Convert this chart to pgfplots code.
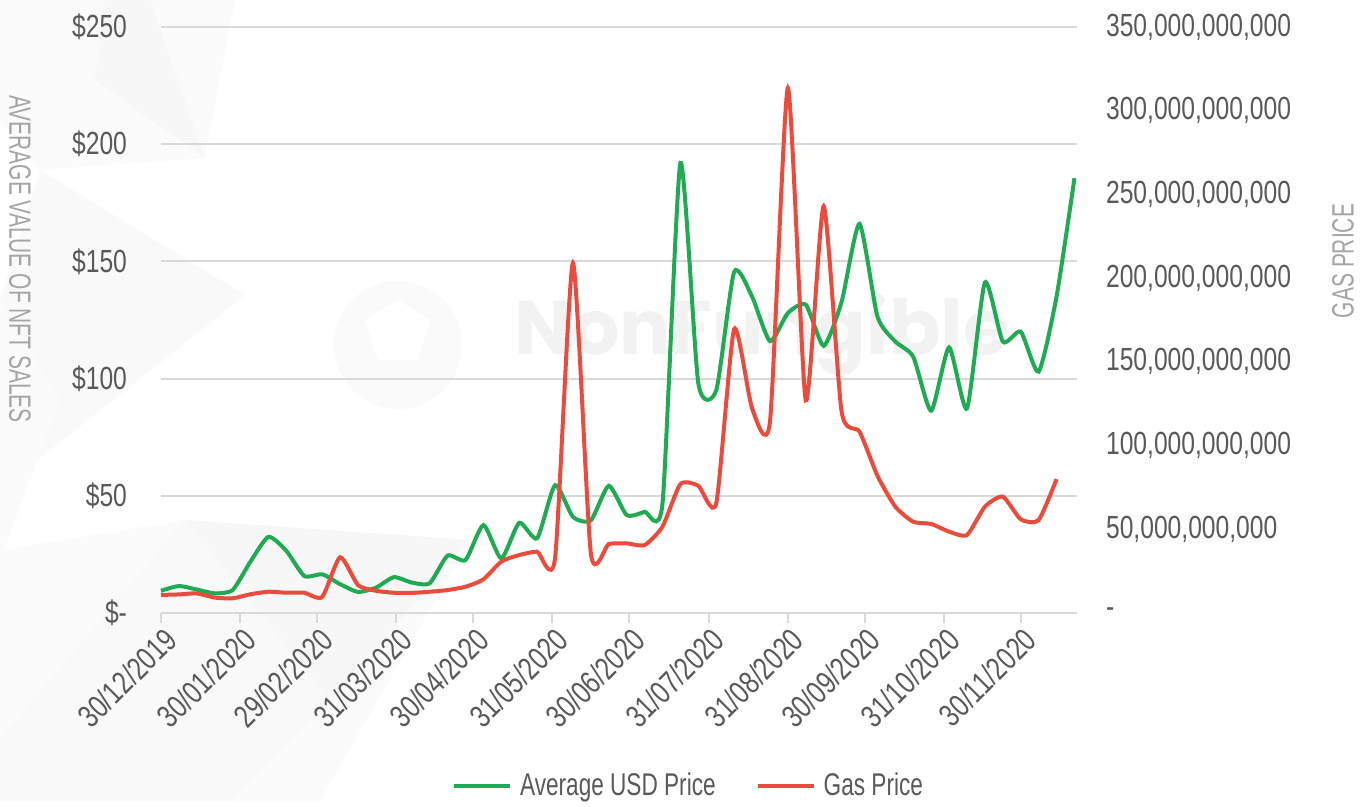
\documentclass[border=0pt]{standalone}
\usepackage{fontspec}
\setmainfont{Liberation Sans}[FakeStretch=0.77]
\newfontfamily\titlefont{Liberation Sans}[FakeStretch=0.68]
\newfontfamily\legendfont{Liberation Sans}[FakeStretch=0.72]
\newfontfamily\wmfont{Poppins}
\usepackage{pgfplots}
\usepackage{pgfplotstable}
\pgfplotsset{compat=1.18}
\definecolor{usdgreen}{RGB}{31,170,83}
\definecolor{gasred}{RGB}{233,76,60}
\definecolor{tickgray}{RGB}{89,89,89}
\definecolor{titlegray}{RGB}{165,165,165}
\definecolor{gridgray}{RGB}{217,217,217}

\pgfplotstableread{
day usd
0 9.5
7 11.5
14 10
21 8.4
28 9.8
35 22
42 32.5
49 26.5
56 15.8
63 16.5
70 12.3
77 9
84 10.8
91 15.3
98 13
105 12.7
112 24.5
119 22.6
126 37.5
133 23.3
140 38.5
147 31.9
154 54.5
161 41
168 39.5
175 54.3
182 41.8
189 43.2
196 46.8
203 192
210 98
217 95
224 145.5
231 135
238 116
245 128
252 131.5
259 114
266 132.8
273 166
280 126.5
287 115.8
294 109.3
301 86.3
308 113.3
315 87.3
322 141
329 115.8
336 120
343 103
350 135
357 185.5
}\usdtable

\pgfplotstableread{
day gas
0 10.8
7 11.1
14 11.7
21 9.2
28 8.8
35 11.2
42 12.7
49 12.1
56 12.1
63 9.6
70 33.3
77 16.7
84 13.3
91 12.1
98 12
105 12.7
112 13.7
119 15.7
126 20.1
133 30.7
140 34.6
147 36.6
154 32.7
161 209
168 35.6
175 41.2
182 41.6
189 40.6
196 51.6
203 77
210 76
217 65.5
224 169.5
231 122.3
238 114.3
245 313.5
252 127
259 243
266 120.3
273 108.3
280 82
287 63.5
294 54.5
301 53.2
308 48.6
315 46.6
322 63.5
329 69.5
336 56
343 55.5
350 80
}\gastable

\begin{document}
\begin{tikzpicture}
\begin{scope}[x=0.5pt,y=-0.5pt,shift={(-161,-613)}]
\useasboundingbox (0,0) rectangle (1365,801);
% background decoration
\fill[gray!3] (0,0) -- (235,0) -- (205,158) -- (40,170) -- (0,120) -- cycle;
\fill[gray!6] (105,0) -- (150,0) -- (205,158) -- (95,80) -- cycle;
\fill[gray!5] (40,170) -- (245,295) -- (0,490) -- (0,300) -- cycle;
\fill[gray!3] (0,300) -- (60,400) -- (0,560) -- cycle;
\fill[gray!3] (0,550) -- (185,520) -- (470,540) -- (320,801) -- (0,801) -- cycle;
\fill[gray!6] (185,520) -- (470,540) -- (330,700) -- cycle;
\fill[gray!5] (0,740) -- (185,520) -- (330,700) -- (230,801) -- (0,801) -- cycle;
\fill[gray!4] (398,345) circle (64);
\fill[white] (365,320) -- (398,300) -- (430,320) -- (418,360) -- (378,360) -- cycle;
\node[text=gray!10, font=\wmfont\bfseries\fontsize{38}{42}\selectfont] at (762,335) {NonFungible};
\end{scope}

\begin{axis}[
  at={(0,0)}, anchor=south west,
  width=458pt, height=293pt, scale only axis,
  xmin=0, xmax=358, ymin=0, ymax=250,
  axis x line*=bottom, axis y line*=left,
  y axis line style={draw=none},
  x axis line style={gridgray, line width=1pt},
  xtick={0,31,61,92,122,153,183,214,245,275,306,336},
  xticklabels={30/12/2019,30/01/2020,29/02/2020,31/03/2020,30/04/2020,31/05/2020,30/06/2020,31/07/2020,31/08/2020,30/09/2020,31/10/2020,30/11/2020},
  x tick style={gridgray, line width=1pt},
  major tick length=5pt, tick align=outside,
  ytick={0,50,100,150,200,250},
  yticklabels={\$-,\$50,\$100,\$150,\$200,\$250},
  y tick style={draw=none},
  ymajorgrids, grid style={gridgray, line width=1pt},
  tick label style={font=\fontsize{16}{18}\selectfont, text=tickgray},
  xticklabel style={rotate=45, anchor=north east, xshift=3pt, yshift=2pt},
  yticklabel style={xshift=-8.5pt},
  clip=false,
]
\addplot[usdgreen, line width=2pt, smooth, tension=0.37] table[x=day, y=usd] {\usdtable};
\end{axis}

\begin{axis}[
  at={(0,0)}, anchor=south west,
  width=458pt, height=293pt, scale only axis,
  xmin=0, xmax=358, ymin=0, ymax=350,
  axis x line=none, axis y line*=right,
  y axis line style={draw=none}, y tick style={draw=none},
  ytick={0,50,100,150,200,250,300,350},
  yticklabels={-,{50,000,000,000},{100,000,000,000},{150,000,000,000},{200,000,000,000},{250,000,000,000},{300,000,000,000},{350,000,000,000}},
  tick label style={font=\fontsize{16}{18}\selectfont, text=tickgray},
  yticklabel style={anchor=west, xshift=11pt},
  clip=false,
  legend style={at={(0.577,-0.295)}, anchor=center, draw=none, fill=none,
    font=\legendfont\fontsize{15.7}{18}\selectfont, text=tickgray,
    /tikz/every odd column/.append style={column sep=2pt},
    /tikz/every even column/.append style={column sep=18pt}},
  legend columns=2,
  legend image code/.code={\draw[#1, line width=2pt] (0pt,0pt) -- (28pt,0pt);},
]
\addlegendimage{usdgreen, line width=2pt}
\addlegendentry{Average USD Price}
\addplot[gasred, line width=2pt, smooth, tension=0.37] table[x=day, y=gas] {\gastable};
\addlegendentry{Gas Price}
\end{axis}

\begin{scope}[x=0.5pt,y=-0.5pt,shift={(-161,-613)}]
\node[rotate=-90, text=titlegray, font=\titlefont\fontsize{15.4}{18}\selectfont] at (20,259) {AVERAGE VALUE OF NFT SALES};
\node[rotate=90, text=titlegray, font=\titlefont\fontsize{15.4}{18}\selectfont] at (1343,261) {GAS PRICE};
\end{scope}
\end{tikzpicture}
\end{document}
